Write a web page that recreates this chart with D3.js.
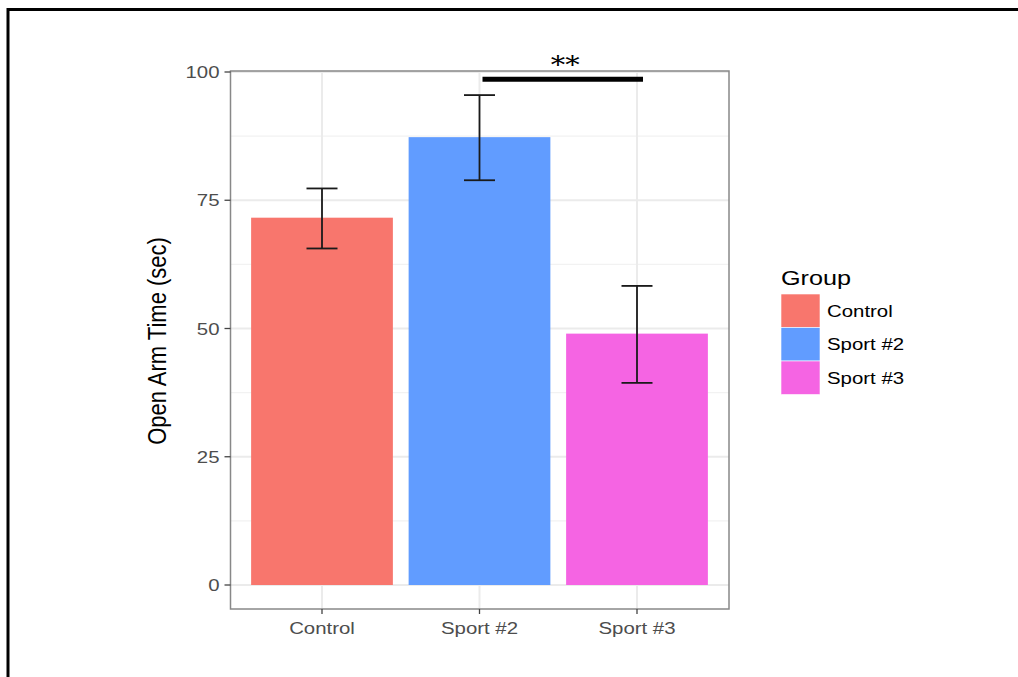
<!DOCTYPE html>
<html>
<head>
<meta charset="utf-8">
<script src="https://cdn.jsdelivr.net/npm/d3@7"></script>
<style>
body { margin: 0; background: #fff; }
svg { display: block; font-family: "Liberation Sans", Arial, sans-serif; }
</style>
</head>
<body>
<script>
// chart data
var groups = ["Control", "Sport #2", "Sport #3"];
var means = [71.6, 87.3, 49.0];
var errLow = [65.6, 78.9, 39.4];
var errHigh = [77.3, 95.5, 58.3];
var colors = ["#F8766D", "#619CFF", "#F564E3"];
var yTicks = [0, 25, 50, 75, 100];
var sigPair = ["Sport #2", "Sport #3"];
var sigLevel = 98.6;
var sigLabel = "**";

var W = 1018, H = 677;
var panel = {l: 230.5, r: 729, t: 71, b: 609};
var SX = 1.2; // the picture is stretched sideways

var svg = d3.select("body").append("svg")
	.attr("width", W).attr("height", H);

svg.append("rect").attr("width", W).attr("height", H).attr("fill", "#fff");

// outer frame (only top and left visible)
svg.append("line").attr("x1", 8).attr("x2", W).attr("y1", 9.5).attr("y2", 9.5)
	.attr("stroke", "#000").attr("stroke-width", 3);
svg.append("line").attr("x1", 8).attr("x2", 8).attr("y1", 8).attr("y2", H)
	.attr("stroke", "#000").attr("stroke-width", 3);

// text helper, stretched horizontally
function label(px, py, str, size, anchor, fill, rot){
	var t = svg.append("g")
		.attr("transform", "translate(" + px + "," + py + ") scale(" + SX + ",1)" + (rot ? " rotate(" + rot + ")" : ""))
		.append("text")
		.attr("text-anchor", anchor)
		.attr("font-size", size)
		.attr("fill", fill)
		.text(str);
	return t;
}

// scales: discrete x with ggplot style 0.6 expansion
var x = d3.scaleLinear().domain([0.4, 3.6]).range([227.5, 731.5]);
var y = d3.scaleLinear().domain([0, 100]).range([585, 72]);
var barW = x(1.45) - x(0.55);

// grid
var g = svg.append("g");
var minor = [12.5, 37.5, 62.5, 87.5];
g.selectAll(".minor").data(minor).enter().append("line")
	.attr("x1", panel.l).attr("x2", panel.r)
	.attr("y1", function(d){ return y(d); }).attr("y2", function(d){ return y(d); })
	.attr("stroke", "#f2f2f2").attr("stroke-width", 1.2);
g.selectAll(".major").data(yTicks).enter().append("line")
	.attr("x1", panel.l).attr("x2", panel.r)
	.attr("y1", function(d){ return y(d); }).attr("y2", function(d){ return y(d); })
	.attr("stroke", "#ebebeb").attr("stroke-width", 2);
g.selectAll(".vgrid").data(groups).enter().append("line")
	.attr("x1", function(d,i){ return x(i+1); }).attr("x2", function(d,i){ return x(i+1); })
	.attr("y1", panel.t).attr("y2", panel.b)
	.attr("stroke", "#ebebeb").attr("stroke-width", 2);

// bars
svg.selectAll(".bar").data(groups).enter().append("rect")
	.attr("x", function(d,i){ return x(i+1) - barW/2; })
	.attr("y", function(d,i){ return y(means[i]); })
	.attr("width", barW)
	.attr("height", function(d,i){ return y(0) - y(means[i]); })
	.attr("fill", function(d,i){ return colors[i]; });

// error bars
var eb = svg.selectAll(".eb").data(groups).enter().append("g")
	.attr("stroke", "#1a1a1a").attr("stroke-width", 1.8);
eb.append("line")
	.attr("x1", function(d,i){ return x(i+1); }).attr("x2", function(d,i){ return x(i+1); })
	.attr("y1", function(d,i){ return y(errLow[i]); }).attr("y2", function(d,i){ return y(errHigh[i]); });
eb.append("line")
	.attr("x1", function(d,i){ return x(i+1) - 15.5; }).attr("x2", function(d,i){ return x(i+1) + 15.5; })
	.attr("y1", function(d,i){ return y(errLow[i]); }).attr("y2", function(d,i){ return y(errLow[i]); });
eb.append("line")
	.attr("x1", function(d,i){ return x(i+1) - 15.5; }).attr("x2", function(d,i){ return x(i+1) + 15.5; })
	.attr("y1", function(d,i){ return y(errHigh[i]); }).attr("y2", function(d,i){ return y(errHigh[i]); });

// panel border
svg.append("rect")
	.attr("x", panel.l).attr("y", panel.t)
	.attr("width", panel.r - panel.l).attr("height", panel.b - panel.t)
	.attr("fill", "none").attr("stroke", "#888").attr("stroke-width", 1.5);

// significance bar
var s1 = groups.indexOf(sigPair[0]) + 1, s2 = groups.indexOf(sigPair[1]) + 1;
svg.append("line")
	.attr("x1", x(s1) + 3).attr("x2", x(s2) + 6)
	.attr("y1", y(sigLevel)).attr("y2", y(sigLevel))
	.attr("stroke", "#000").attr("stroke-width", 5);
label((x(s1) + x(s2)) / 2 + 7, 73, sigLabel, 24, "middle", "#000")
	.attr("font-family", "DejaVu Serif, serif");

// y axis
var ya = svg.append("g");
ya.selectAll(".tick").data(yTicks).enter().append("line")
	.attr("x1", panel.l - 6).attr("x2", panel.l)
	.attr("y1", function(d){ return y(d); }).attr("y2", function(d){ return y(d); })
	.attr("stroke", "#444").attr("stroke-width", 1.3);
yTicks.forEach(function(d){
	label(panel.l - 11, y(d) + 6, String(d), 17, "end", "#4d4d4d");
});

// x axis
var xa = svg.append("g");
xa.selectAll(".tick").data(groups).enter().append("line")
	.attr("x1", function(d,i){ return x(i+1); }).attr("x2", function(d,i){ return x(i+1); })
	.attr("y1", panel.b).attr("y2", panel.b + 5)
	.attr("stroke", "#444").attr("stroke-width", 1.3);
groups.forEach(function(d, i){
	label(x(i+1), 634, d, 17, "middle", "#4d4d4d");
});

// y title
label(166, (panel.t + panel.b) / 2 + 1, "Open Arm Time (sec)", 22, "middle", "#000", -90);

// legend
var lx = 781, ly = 294, keyH = 33.5;
label(lx, 285, "Group", 21, "start", "#000");
svg.selectAll(".key").data(groups).enter().append("rect")
	.attr("x", lx).attr("y", function(d,i){ return ly + i * keyH; })
	.attr("width", 39).attr("height", keyH)
	.attr("fill", function(d,i){ return colors[i]; })
	.attr("stroke", "#fff").attr("stroke-width", 0.6);
groups.forEach(function(d, i){
	label(lx + 46, ly + i * keyH + keyH / 2 + 6, d, 17, "start", "#000");
});
</script>
</body>
</html>
